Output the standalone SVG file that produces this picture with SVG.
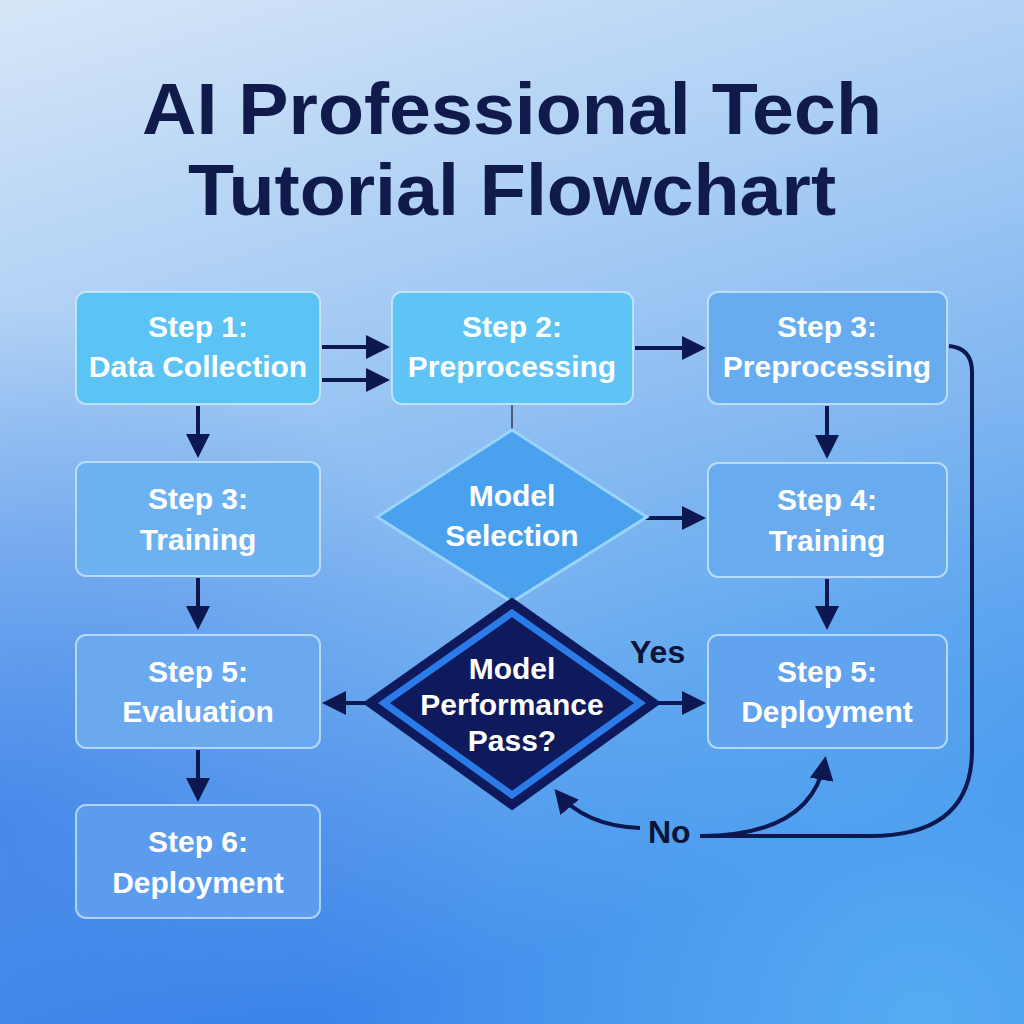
<svg xmlns="http://www.w3.org/2000/svg" width="1024" height="1024" viewBox="0 0 1024 1024">
<defs>
<linearGradient id="bg" x1="0" y1="0" x2="0.3" y2="1">
<stop offset="0" stop-color="#d6e6f8"/>
<stop offset="0.35" stop-color="#a9cdf4"/>
<stop offset="0.7" stop-color="#74aff0"/>
<stop offset="1" stop-color="#3d86ea"/>
</linearGradient>
<radialGradient id="glow" cx="0.9" cy="1" r="0.6">
<stop offset="0" stop-color="#5cb6f4" stop-opacity="0.8"/>
<stop offset="1" stop-color="#5cb6f4" stop-opacity="0"/>
</radialGradient>
<radialGradient id="glow2" cx="0" cy="0.8" r="0.5">
<stop offset="0" stop-color="#2e74e6" stop-opacity="0.6"/>
<stop offset="1" stop-color="#2e74e6" stop-opacity="0"/>
</radialGradient>
<marker id="ah" markerWidth="6" markerHeight="6" refX="5" refY="3" orient="auto" markerUnits="strokeWidth">
<path d="M0,0 L6,3 L0,6 z" fill="#0d1850"/>
</marker>
</defs>
<style>
.box{stroke:#d9efff;stroke-opacity:0.7;stroke-width:2}
.t{font-family:"Liberation Sans",Arial,sans-serif;font-weight:bold;fill:#ffffff;font-size:30px;text-anchor:middle}
.title{font-family:"Liberation Sans",Arial,sans-serif;font-weight:bold;fill:#101b4c;font-size:72px;text-anchor:middle}
.c{fill:none;stroke:#0d1850;stroke-width:4}
.lbl{font-family:"Liberation Sans",Arial,sans-serif;font-weight:bold;fill:#0d1437;font-size:32px}
</style>
<rect width="1024" height="1024" fill="url(#bg)"/>
<rect width="1024" height="1024" fill="url(#glow)"/>
<rect width="1024" height="1024" fill="url(#glow2)"/>

<g id="title">
<text class="title" x="512" y="134" textLength="740" lengthAdjust="spacingAndGlyphs">AI Professional Tech</text>
<text class="title" x="512" y="215" textLength="648" lengthAdjust="spacingAndGlyphs">Tutorial Flowchart</text>
</g>

<g id="connectors">
<line class="c" x1="322" y1="347" x2="386" y2="347" marker-end="url(#ah)"/>
<line class="c" x1="322" y1="380" x2="386" y2="380" marker-end="url(#ah)"/>
<line class="c" x1="635" y1="348" x2="702" y2="348" marker-end="url(#ah)"/>
<line x1="512" y1="405" x2="512" y2="430" stroke="#4a5a80" stroke-width="2"/>
<line class="c" x1="198" y1="406" x2="198" y2="454" marker-end="url(#ah)"/>
<line class="c" x1="198" y1="578" x2="198" y2="626" marker-end="url(#ah)"/>
<line class="c" x1="198" y1="750" x2="198" y2="798" marker-end="url(#ah)"/>
<line class="c" x1="645" y1="518" x2="702" y2="518" marker-end="url(#ah)"/>
<line class="c" x1="827" y1="406" x2="827" y2="455" marker-end="url(#ah)"/>
<line class="c" x1="827" y1="579" x2="827" y2="626" marker-end="url(#ah)"/>
<line class="c" x1="365" y1="703" x2="326" y2="703" marker-end="url(#ah)"/>
<line class="c" x1="657" y1="703" x2="702" y2="703" marker-end="url(#ah)"/>
<path class="c" d="M949,346 Q972,348 972,372 L972,750 Q972,836 870,836 L700,836"/>
<path class="c" d="M700,836 Q812,836 825,760" marker-end="url(#ah)"/>
<path class="c" d="M640,828 Q585,826 557,792" marker-end="url(#ah)"/>
<text class="lbl" x="630" y="663">Yes</text>
<text class="lbl" x="648" y="843">No</text>
</g>

<g id="step1">
<rect class="box" x="76" y="292" width="244" height="112" rx="10" fill="#5cc3f5"/>
<text class="t" x="198" y="337">Step 1:</text>
<text class="t" x="198" y="377">Data Collection</text>
</g>
<g id="step2">
<rect class="box" x="392" y="292" width="241" height="112" rx="10" fill="#5ec3f5"/>
<text class="t" x="512" y="337">Step 2:</text>
<text class="t" x="512" y="377">Preprocessing</text>
</g>
<g id="step3-pre">
<rect class="box" x="708" y="292" width="239" height="112" rx="10" fill="#66acee"/>
<text class="t" x="827" y="337">Step 3:</text>
<text class="t" x="827" y="377">Preprocessing</text>
</g>
<g id="step3-train">
<rect class="box" x="76" y="462" width="244" height="114" rx="10" fill="#6cb1f0"/>
<text class="t" x="198" y="509">Step 3:</text>
<text class="t" x="198" y="550">Training</text>
</g>
<g id="model-selection">
<polygon points="512,430 647,517 512,602 377,517" fill="#4aa2ef" stroke="#9ad4fa" stroke-width="3"/>
<text class="t" x="512" y="506">Model</text>
<text class="t" x="512" y="546">Selection</text>
</g>
<g id="step4">
<rect class="box" x="708" y="463" width="239" height="114" rx="10" fill="#68abee"/>
<text class="t" x="827" y="510">Step 4:</text>
<text class="t" x="827" y="551">Training</text>
</g>
<g id="step5-eval">
<rect class="box" x="76" y="635" width="244" height="113" rx="10" fill="#6aa9ef"/>
<text class="t" x="198" y="682">Step 5:</text>
<text class="t" x="198" y="722">Evaluation</text>
</g>
<g id="decision">
<polygon points="512,600 658,703 512,808 366,703" fill="#0e1a5c" stroke="#0e1a5c" stroke-width="4"/>
<polygon points="512,613 640,703 512,795 384,703" fill="none" stroke="#2a7be8" stroke-width="7"/>
<text class="t" x="512" y="679">Model</text>
<text class="t" x="512" y="715">Performance</text>
<text class="t" x="512" y="751">Pass?</text>
</g>
<g id="step5-deploy">
<rect class="box" x="708" y="635" width="239" height="113" rx="10" fill="#61a3ee"/>
<text class="t" x="827" y="682">Step 5:</text>
<text class="t" x="827" y="722">Deployment</text>
</g>
<g id="step6">
<rect class="box" x="76" y="805" width="244" height="113" rx="10" fill="#5b9cee"/>
<text class="t" x="198" y="852">Step 6:</text>
<text class="t" x="198" y="893">Deployment</text>
</g>
</svg>
